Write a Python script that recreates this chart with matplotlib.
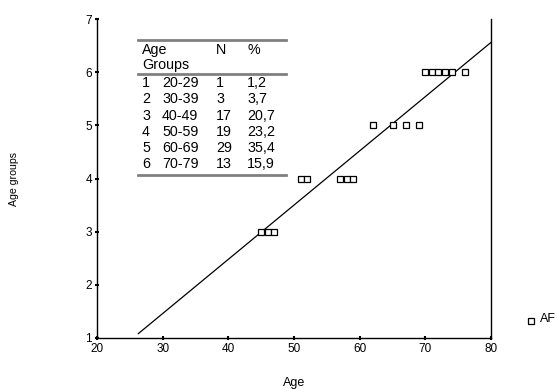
import matplotlib
matplotlib.use("Agg")
import matplotlib.pyplot as plt
import numpy as np

plt.rcParams['font.family'] = ['Liberation Sans', 'DejaVu Sans']

# Scatter data (unique age values per group)
ages = [45, 46, 47, 51, 52, 57, 58, 59, 62, 65, 67, 69, 70, 71, 72, 73, 74, 76]
groups = [3, 3, 3, 4, 4, 4, 4, 4, 5, 5, 5, 5, 6, 6, 6, 6, 6, 6]

# Fit line
fit_x = [26.3, 80]
fit_intercept = -1.60
fit_slope = 0.102

# Table
tbl_group = ["1", "2", "3", "4", "5", "6"]
tbl_range = ["20-29", "30-39", "40-49", "50-59", "60-69", "70-79"]
tbl_n = ["1", "3", "17", "19", "29", "13"]
tbl_pct = ["1,2", "3,7", "20,7", "23,2", "35,4", "15,9"]

xticks = [20, 30, 40, 50, 60, 70, 80]
yticks = [1, 2, 3, 4, 5, 6, 7]

fig = plt.figure(figsize=(5.55, 3.89), dpi=100)
ax = fig.add_axes([97/555, 1-338/389, (491-97)/555, (338-19)/389])

fx = np.array(fit_x)
ax.plot(fx, fit_intercept + fit_slope * fx, color='black', lw=0.9, zorder=2)
ax.plot(ages, groups, linestyle='none', marker='s', markersize=4.6,
        markerfacecolor='white', markeredgecolor='black', markeredgewidth=0.9,
        label='AF', zorder=3)

ax.set_xlim(20, 80)
ax.set_ylim(1, 7)
ax.set_xticks(xticks)
ax.set_yticks(yticks)
ax.spines['top'].set_visible(False)
for s in ['left', 'bottom', 'right']:
    ax.spines[s].set_linewidth(1.0)
ax.tick_params(direction='inout', length=3, width=1.5, labelsize=8.5, pad=2)
ax.set_xlabel('Age', fontsize=9, labelpad=16)
ax.set_ylabel('Age groups', fontsize=7.6, labelpad=48)

# Table drawn in pixel coordinates of figure
def fy(py):
    return 1 - py / 389
def fxp(px):
    return px / 555

gray = '#808080'
for py in [40, 74, 175]:
    fig.add_artist(plt.Line2D([fxp(138), fxp(286)], [fy(py), fy(py)],
                              color=gray, lw=2.0))
fs = 10.3
fig.text(fxp(142), fy(50), 'Age', fontsize=fs, va='center')
fig.text(fxp(142), fy(65), 'Groups', fontsize=fs, va='center')
fig.text(fxp(216), fy(50), 'N', fontsize=fs, va='center')
fig.text(fxp(247), fy(50), '%', fontsize=fs, va='center')
row_y = 83
for i in range(len(tbl_group)):
    py = row_y + i * 16.3
    fig.text(fxp(142), fy(py), tbl_group[i], fontsize=fs, va='center')
    fig.text(fxp(162), fy(py), tbl_range[i], fontsize=fs, va='center')
    fig.text(fxp(216), fy(py), tbl_n[i], fontsize=fs, va='center')
    fig.text(fxp(247), fy(py), tbl_pct[i], fontsize=fs, va='center')

leg = ax.legend(loc='center left', bbox_to_anchor=(fxp(521), fy(322)),
                bbox_transform=fig.transFigure, frameon=False, fontsize=9,
                handlelength=0.6, handletextpad=0.4, borderpad=0)
# raise legend text slightly above its marker, as in the reference
for t in leg.get_texts():
    t.set_va('bottom')

fig.savefig('out.png', dpi=100)
